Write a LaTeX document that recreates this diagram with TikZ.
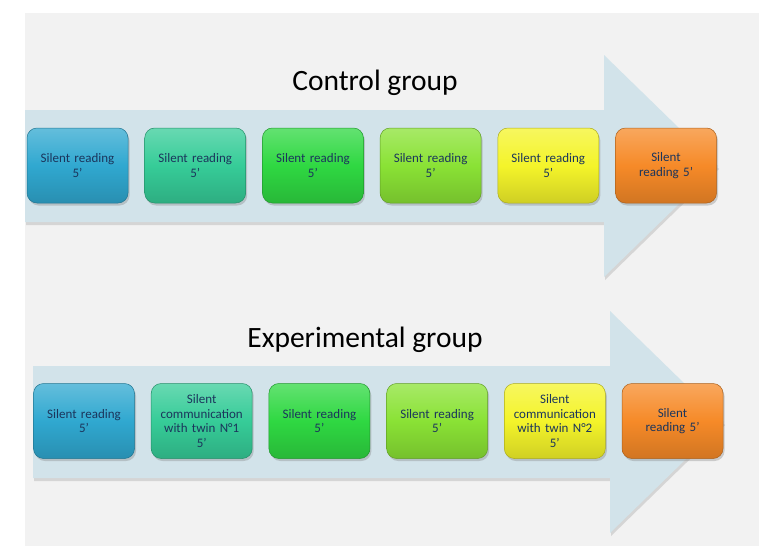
\documentclass[tikz,border=0pt]{standalone}
\usepackage{fontspec}
\setmainfont{Carlito}
\usetikzlibrary{positioning,shadows}

\definecolor{bggray}{HTML}{F2F2F2}
\definecolor{shaft}{HTML}{D2E3EA}
\definecolor{navy}{HTML}{1B355C}
\definecolor{cblue}{HTML}{30A8D0}
\definecolor{cteal}{HTML}{36CC98}
\definecolor{cgreen}{HTML}{2FD842}
\definecolor{clime}{HTML}{8AE235}
\definecolor{cyellow}{HTML}{F4F42A}
\definecolor{corange}{HTML}{F68A28}

\begin{document}
\begin{tikzpicture}[x=1pt, y=-1pt, node distance=117.7pt, on grid,
	stage/.style={draw=#1!70!black, line width=0.5pt, rounded corners=10pt,
		minimum width=101pt, minimum height=75pt, text width=94pt, align=center,
		font=\fontsize{13}{14.5}\selectfont, text=navy,
		top color=#1!75!white, bottom color=#1!85!black, middle color=#1,
		drop shadow={shadow xshift=1.5pt, shadow yshift=-2.5pt, opacity=0.35}},
	heading/.style={font=\fontsize{29.5}{34}\selectfont, text=black}]
	\useasboundingbox (0,0) rectangle (759,546);
	\fill[bggray] (25,13) rectangle (759,546);

	% arrows behind the stages
	\fill[shaft, drop shadow={shadow xshift=1pt, shadow yshift=-3pt, opacity=0.25}]
		(25,110) -- (604,110) -- (604,55) -- (718,166) -- (604,277) -- (604,222) -- (25,222) -- cycle;
	\fill[shaft, drop shadow={shadow xshift=1pt, shadow yshift=-3pt, opacity=0.25}]
		(33,366) -- (610,366) -- (610,311) -- (724,422) -- (610,533) -- (610,478) -- (33,478) -- cycle;

	% control group
	\node[heading] (ctitle) at (375,83) {Control group};
	\node[stage=cblue] (c1) at (77.5,165.5) {Silent reading\\5’};
	\node[stage=cteal] (c2) [right=of c1] {Silent reading\\5’};
	\node[stage=cgreen] (c3) [right=of c2] {Silent reading\\5’};
	\node[stage=clime] (c4) [right=of c3] {Silent reading\\5’};
	\node[stage=cyellow] (c5) [right=of c4] {Silent reading\\5’};
	\node[stage=corange] (c6) [right=of c5] {Silent\\reading 5’};

	% experimental group
	\node[heading] (etitle) at (365,340) {Experimental group};
	\node[stage=cblue] (e1) at (84,421) {Silent reading\\5’};
	\node[stage=cteal] (e2) [right=of e1] {Silent\\communication\\with twin N°1\\5’};
	\node[stage=cgreen] (e3) [right=of e2] {Silent reading\\5’};
	\node[stage=clime] (e4) [right=of e3] {Silent reading\\5’};
	\node[stage=cyellow] (e5) [right=of e4] {Silent\\communication\\with twin N°2\\5’};
	\node[stage=corange] (e6) [right=of e5] {Silent\\reading 5’};
\end{tikzpicture}
\end{document}
